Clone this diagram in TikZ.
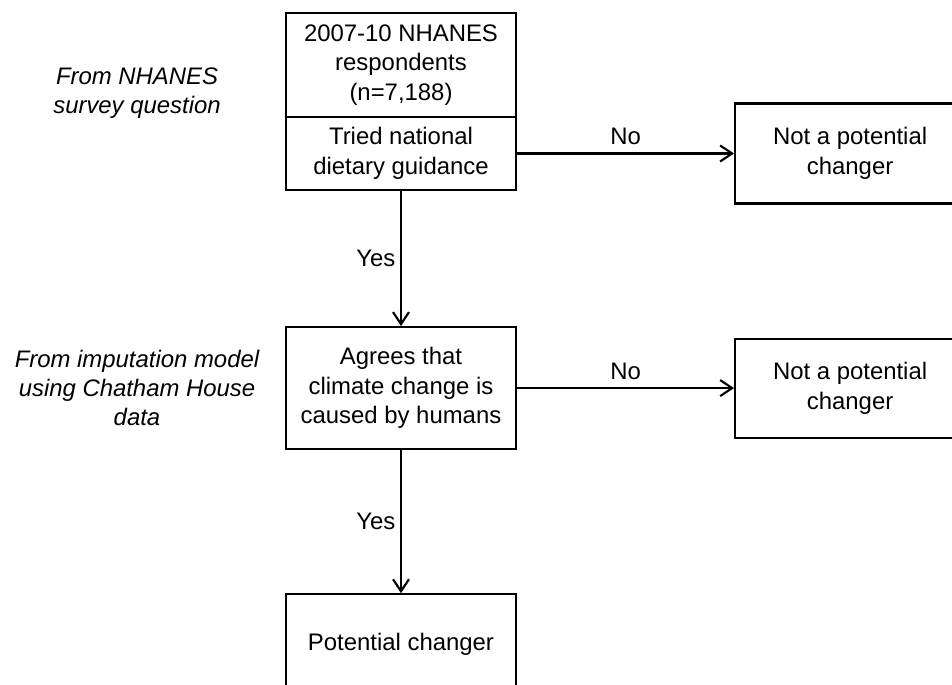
\documentclass[tikz,border=0pt]{standalone}
\usepackage{fontspec}
\setmainfont{Liberation Sans}
\usepackage{xcolor}
\usetikzlibrary{positioning, arrows.meta}
\definecolor{ink}{HTML}{000000}

\begin{document}
\begin{tikzpicture}[
        node distance=3.4cm,
        box/.style={rectangle, draw=ink, text=ink, line width=1.5pt,
                    minimum width=5.75cm, align=center, inner sep=3pt,
                    font=\fontsize{17}{21}\selectfont},
        note/.style={align=center, text=ink,
                     font=\fontsize{17}{20.5}\selectfont\itshape},
        flow/.style={-{Straight Barb[length=3mm, width=4mm]}, ink, line width=1.5pt},
        lbl/.style={font=\fontsize{17}{20.5}\selectfont, text=ink}
      ]
        \useasboundingbox (0,0) rectangle (23.8,17.125);
        \clip (0,0) rectangle (23.8,17.125);
        % main column
        \node[box, minimum height=2.6cm] (head) at (10.025,15.5) {2007-10 NHANES\\respondents\\(n=7,188)};
        \node[box, minimum height=1.825cm, below=-1.5pt of head] (tried) {Tried national\\dietary guidance};
        \node[box, minimum height=3.05cm, below=3.375cm of tried] (agrees) {Agrees that\\climate change is\\caused by humans};
        \node[box, minimum height=2.5cm, below=3.575cm of agrees] (pot) {Potential changer};
        % side boxes
        \node[box, minimum height=2.5cm, right=5.425cm of tried] (nota) {Not a potential\\changer};
        \node[box, minimum height=2.475cm, right=5.425cm of agrees] (notb) {Not a potential\\changer};
        % notes on the left
        \node[note] (src1) at (3.425,14.8) {From NHANES\\survey question};
        \node[note] (src2) at (3.425,7.425) {From imputation model\\using Chatham House\\data};
        \draw[flow] (tried) -- node[lbl, above=2pt] {No} (nota);
        \draw[flow] (tried) -- node[lbl, left] {Yes} (agrees);
        \draw[flow] (agrees) -- node[lbl, above=2pt] {No} (notb);
        \draw[flow] (agrees) -- node[lbl, left] {Yes} (pot);
      \end{tikzpicture}
\end{document}
